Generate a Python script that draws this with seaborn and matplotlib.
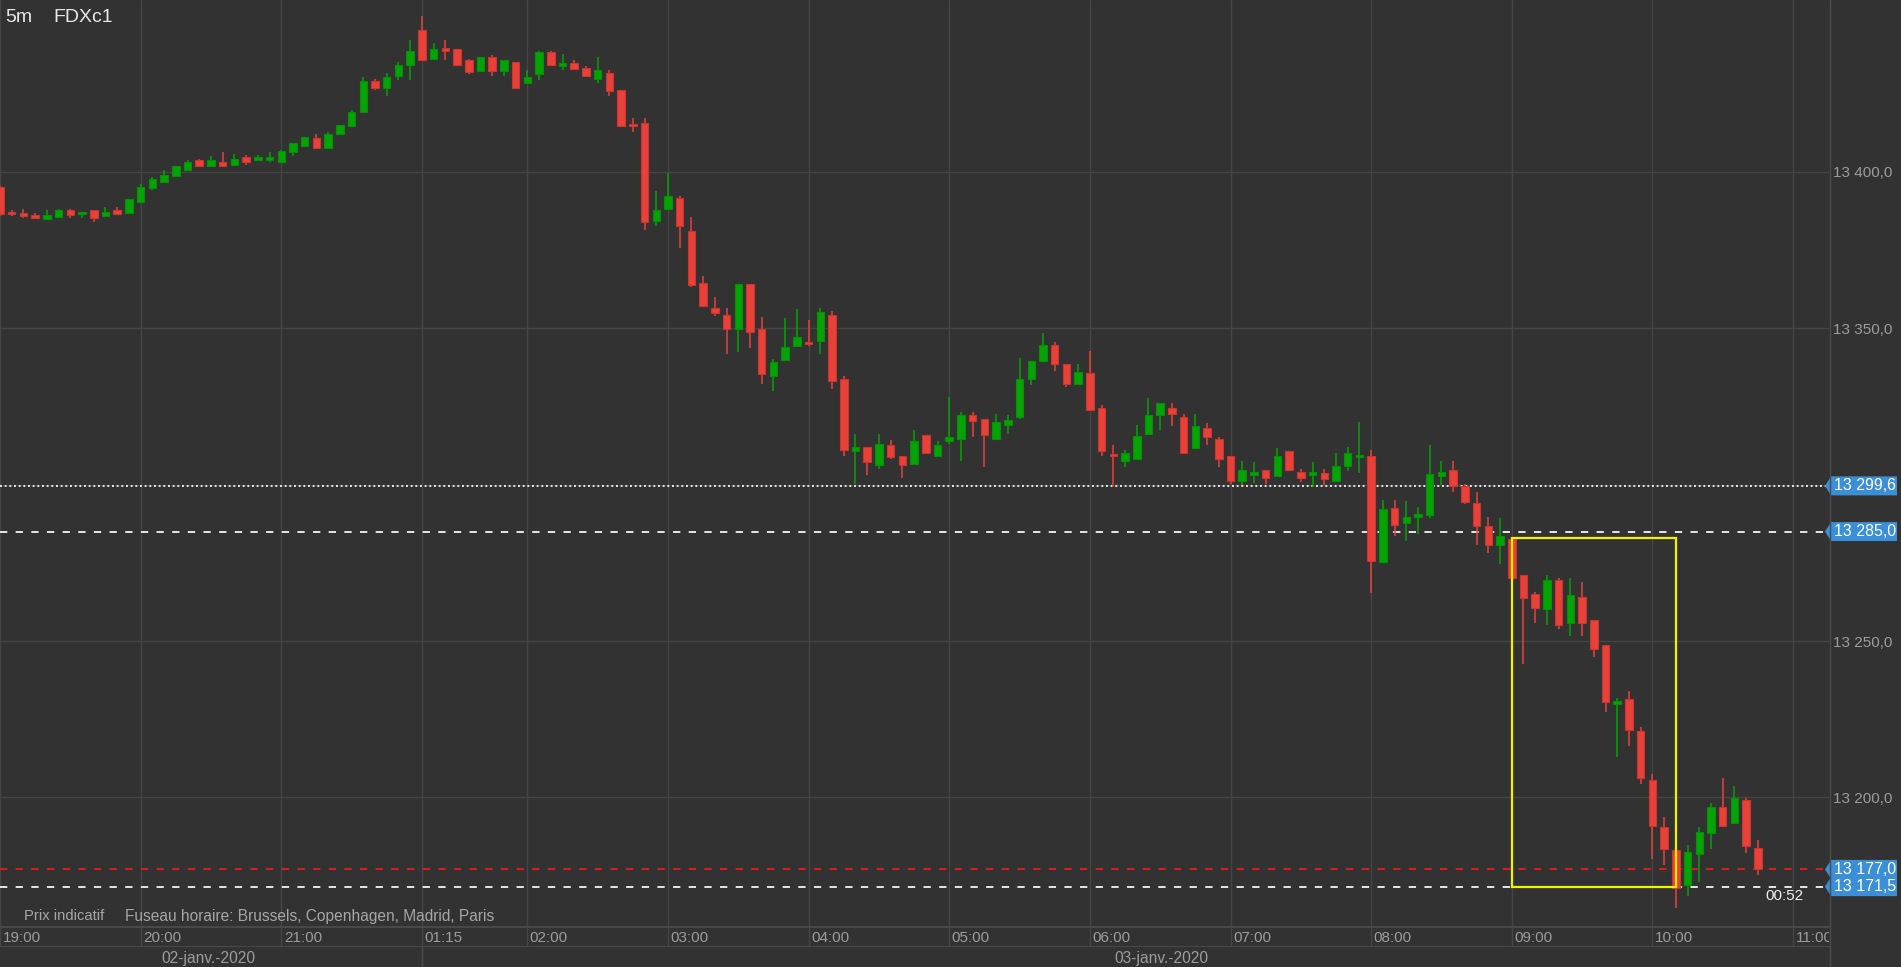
import numpy as np
import pandas as pd
import matplotlib
matplotlib.use("Agg")
import matplotlib.pyplot as plt
import matplotlib.transforms as mtransforms
from matplotlib.patches import Polygon, Rectangle
from matplotlib.lines import Line2D
import seaborn as sns

# --- data: FDXc1, bougies 5 minutes ---
sessions = [("2020-01-02 19:00", "2020-01-02 21:55"),
            ("2020-01-03 01:15", "2020-01-03 10:45")]

opens = [
    13395.2, 13387.2, 13386.8, 13386.2, 13384.8, 13385.6, 13387.7, 13386.4, 13387.7, 13385.7, 13387.7, 13386.8,  # 19h
    13390.2, 13394.7, 13396.7, 13398.7, 13400.6, 13403.6, 13401.7, 13403.1, 13402.2, 13404.8, 13403.7, 13403.7,  # 20h
    13403.2, 13406.2, 13408.2, 13410.7, 13407.7, 13412.2, 13414.7, 13419.2, 13429.1, 13426.8, 13430.7, 13434.2,  # 21h
    13445.2, 13436.2, 13439.7, 13439.2, 13435.7, 13432.2, 13436.7, 13432.2, 13435.2,  # 01h15
    13428.3, 13431.2, 13438.2, 13433.7, 13434.8, 13433.3, 13429.7, 13431.7, 13426.2, 13415.2, 13415.7, 13384.3,  # 02h
    13388.1, 13391.7, 13381.1, 13364.5, 13356.6, 13354.1, 13349.7, 13364.1, 13349.6, 13334.7, 13339.7, 13344.2,  # 03h
    13345.2, 13345.8, 13354.2, 13333.6, 13310.7, 13312.1, 13306.2, 13312.6, 13309.1, 13306.7, 13316.0, 13309.3,  # 04h
    13313.8, 13314.7, 13322.1, 13321.1, 13314.7, 13319.2, 13321.7, 13333.6, 13339.6, 13344.6, 13338.6, 13332.1,  # 05h
    13335.7, 13324.6, 13309.6, 13307.6, 13308.1, 13316.1, 13322.1, 13324.6, 13321.6, 13311.7, 13318.2, 13314.6,  # 06h
    13309.2, 13301.2, 13303.2, 13304.6, 13302.7, 13310.7, 13304.1, 13303.2, 13303.7, 13301.3, 13305.8, 13308.7,  # 07h
    13309.1, 13275.2, 13292.6, 13287.8, 13289.8, 13290.2, 13302.7, 13304.6, 13299.6, 13294.2, 13286.7, 13280.7,  # 08h
    13282.5, 13271.1, 13265.1, 13260.2, 13269.6, 13255.7, 13264.0, 13256.6, 13248.7, 13230.0, 13231.4, 13221.4,  # 09h
    13205.5, 13190.7, 13183.3, 13172.0, 13182.0, 13188.8, 13197.1, 13191.8, 13199.1, 13183.7,  # 10h
]
highs = [
    13395.5, 13387.7, 13388.0, 13386.8, 13387.7, 13388.0, 13388.2, 13387.2, 13387.7, 13388.7, 13388.7, 13391.3,
    13396.2, 13398.2, 13400.6, 13401.7, 13403.7, 13404.2, 13405.1, 13406.2, 13405.6, 13405.2, 13405.2, 13406.2,
    13407.1, 13409.2, 13411.2, 13412.2, 13412.7, 13415.1, 13419.7, 13430.2, 13429.6, 13431.6, 13435.2, 13442.1,
    13449.7, 13441.3, 13442.2, 13439.2, 13436.1, 13436.7, 13437.2, 13435.7, 13435.2,
    13432.6, 13438.7, 13438.7, 13437.7, 13435.7, 13433.8, 13436.7, 13432.6, 13426.2, 13417.2, 13417.2, 13393.7,
    13399.7, 13392.1, 13385.6, 13366.6, 13360.1, 13356.6, 13364.1, 13364.1, 13353.6, 13340.1, 13353.1, 13356.1,
    13352.6, 13356.6, 13355.6, 13334.6, 13316.1, 13312.1, 13316.1, 13314.2, 13309.1, 13317.6, 13316.0, 13314.1,
    13328.1, 13323.2, 13323.2, 13321.1, 13322.6, 13322.1, 13340.6, 13339.6, 13348.6, 13345.6, 13338.6, 13338.6,
    13342.6, 13325.6, 13312.6, 13311.1, 13319.1, 13327.7, 13326.1, 13326.1, 13322.6, 13322.6, 13319.7, 13315.2,
    13309.2, 13307.6, 13307.2, 13304.6, 13311.7, 13310.7, 13305.1, 13307.2, 13305.1, 13310.2, 13312.1, 13320.1,
    13311.1, 13295.1, 13295.1, 13294.7, 13292.7, 13312.7, 13307.6, 13307.6, 13300.1, 13297.7, 13289.7, 13289.2,
    13283.0, 13271.1, 13265.7, 13271.1, 13270.0, 13270.0, 13269.0, 13256.6, 13248.7, 13231.8, 13233.9, 13222.5,
    13207.5, 13193.7, 13183.3, 13184.7, 13190.7, 13198.2, 13206.2, 13203.7, 13199.7, 13186.3,
]
lows = [
    13386.0, 13385.8, 13385.3, 13385.3, 13384.8, 13385.3, 13385.3, 13385.3, 13383.8, 13385.7, 13386.4, 13386.8,
    13390.2, 13394.2, 13396.7, 13398.7, 13400.6, 13401.7, 13401.7, 13401.7, 13402.2, 13402.1, 13403.7, 13403.2,
    13403.2, 13405.1, 13408.2, 13407.7, 13407.7, 13411.6, 13414.2, 13419.2, 13426.2, 13424.1, 13429.2, 13429.2,
    13435.6, 13436.2, 13435.6, 13434.2, 13431.2, 13431.8, 13430.7, 13430.7, 13426.8,
    13428.3, 13429.2, 13434.2, 13432.6, 13432.7, 13430.7, 13428.3, 13424.2, 13414.7, 13412.7, 13381.3, 13382.8,
    13388.1, 13375.7, 13363.1, 13356.7, 13353.8, 13341.6, 13342.3, 13343.7, 13332.1, 13329.8, 13339.7, 13344.2,
    13344.2, 13341.6, 13330.7, 13309.2, 13300.2, 13303.2, 13305.1, 13308.1, 13302.2, 13306.7, 13310.2, 13309.3,
    13313.1, 13307.7, 13315.2, 13305.7, 13314.7, 13316.1, 13321.1, 13331.7, 13339.6, 13336.2, 13331.1, 13332.1,
    13323.7, 13309.2, 13299.2, 13305.7, 13308.1, 13316.1, 13317.6, 13318.6, 13310.2, 13311.7, 13312.6, 13305.7,
    13300.2, 13299.9, 13300.6, 13300.2, 13302.7, 13304.2, 13300.7, 13299.2, 13299.9, 13301.3, 13304.2, 13303.7,
    13265.3, 13275.2, 13283.7, 13282.1, 13284.1, 13289.3, 13299.9, 13297.7, 13293.7, 13280.7, 13278.3, 13274.7,
    13249.1, 13242.8, 13255.7, 13255.2, 13253.7, 13251.7, 13251.7, 13244.8, 13227.4, 13213.0, 13216.5, 13204.2,
    13180.4, 13178.4, 13164.6, 13168.5, 13173.0, 13183.4, 13190.9, 13191.8, 13182.3, 13175.1,
]
closes = [
    13386.5, 13386.4, 13385.7, 13385.3, 13386.1, 13387.7, 13386.2, 13387.2, 13385.3, 13387.2, 13386.4, 13391.3,
    13395.2, 13397.7, 13399.1, 13401.7, 13403.2, 13401.7, 13403.7, 13401.7, 13404.2, 13403.1, 13404.8, 13404.7,
    13406.7, 13409.2, 13411.2, 13407.7, 13412.2, 13415.1, 13419.2, 13429.1, 13426.7, 13430.2, 13434.1, 13438.7,
    13435.6, 13439.2, 13438.7, 13434.2, 13431.8, 13436.7, 13432.2, 13435.7, 13426.8,
    13430.2, 13438.2, 13434.2, 13434.8, 13432.7, 13430.7, 13432.6, 13425.7, 13414.7, 13414.7, 13383.8, 13387.7,
    13392.1, 13382.8, 13363.7, 13357.2, 13354.7, 13349.7, 13364.1, 13348.7, 13335.2, 13339.2, 13344.0, 13347.1,
    13344.9, 13355.1, 13333.2, 13311.2, 13312.1, 13307.2, 13313.0, 13308.7, 13306.2, 13314.0, 13310.2, 13312.6,
    13315.1, 13322.1, 13320.2, 13315.7, 13320.1, 13320.6, 13333.6, 13339.6, 13344.6, 13338.6, 13332.1, 13336.1,
    13323.7, 13310.6, 13309.2, 13310.2, 13315.6, 13322.1, 13326.1, 13322.6, 13310.2, 13318.6, 13315.2, 13308.1,
    13301.2, 13304.6, 13304.1, 13302.2, 13309.1, 13304.7, 13302.2, 13304.1, 13301.7, 13306.1, 13310.2, 13309.6,
    13275.7, 13292.1, 13287.2, 13289.6, 13290.5, 13303.5, 13304.1, 13299.7, 13294.3, 13286.8, 13280.7, 13283.7,
    13270.1, 13263.7, 13260.7, 13269.6, 13255.2, 13264.6, 13255.7, 13247.5, 13230.4, 13230.8, 13221.5, 13206.2,
    13190.9, 13183.4, 13171.0, 13182.7, 13189.1, 13197.1, 13190.9, 13199.7, 13184.5, 13177.0,
]

tick_times = ["2020-01-02 19:00", "2020-01-02 20:00", "2020-01-02 21:00", "2020-01-03 01:15",
              "2020-01-03 02:00", "2020-01-03 03:00", "2020-01-03 04:00", "2020-01-03 05:00",
              "2020-01-03 06:00", "2020-01-03 07:00", "2020-01-03 08:00", "2020-01-03 09:00",
              "2020-01-03 10:00", "2020-01-03 11:00"]
price_ticks = [13200, 13250, 13300, 13350, 13400]
date_labels = ["02-janv.-2020", "03-janv.-2020"]

# niveaux horizontaux
levels = [13299.6, 13285.0, 13177.0, 13171.5]
countdown = "00:52"
box_from, box_to, box_low = "2020-01-03 09:00", "2020-01-03 10:10", 13171.5

stamps = pd.DatetimeIndex(np.concatenate(
    [pd.date_range(a, b, freq="5min").values for a, b in sessions]))
df = pd.DataFrame({"time": stamps, "open": opens, "high": highs,
                   "low": lows, "close": closes})
df["x"] = np.arange(len(df))


def slot(ts):
    ts = pd.Timestamp(ts)
    hit = np.flatnonzero(stamps == ts)
    if len(hit):
        return float(hit[0])
    return len(stamps) - 1 + (ts - stamps[-1]) / pd.Timedelta("5min")


def fmt_price(v):
    return f"{v:,.1f}".replace(",", " ").replace(".", ",")


# --- style ---
BG = "#323232"
GRID = "#454545"
SEP = "#4c4c4c"
UP = "#05a305"
DOWN = "#e8413a"
TXT = "#9c9c9c"
TAG = "#3a8fd6"

sns.set_theme(style="dark", rc={"figure.facecolor": BG, "axes.facecolor": BG,
                                "savefig.facecolor": BG})
plt.rcParams["font.family"] = ["Liberation Sans", "DejaVu Sans"]

W, H = 1901, 967
fig = plt.figure(figsize=(W / 100, H / 100), dpi=100)
ax = fig.add_axes([0, 40 / H, 1829 / W, 927 / H])
ax_t = fig.add_axes([0, 20 / H, 1829 / W, 20 / H])
ax_d = fig.add_axes([0, 0, 1829 / W, 20 / H])

xlim = (0.0, 156.07)
for a in (ax, ax_t, ax_d):
    a.set_xlim(*xlim)
    a.set_facecolor(BG)
    for s in a.spines.values():
        s.set_visible(False)

ax.set_ylim(13158.6, 13454.9)

# grille
tick_x = [slot(t) for t in tick_times]
ax.set_xticks(tick_x)
ax.set_xticklabels([])
ax.set_yticks(price_ticks)
ax.set_yticklabels([fmt_price(v) for v in price_ticks])
ax.yaxis.tick_right()
ax.tick_params(axis="both", length=0)
ax.tick_params(axis="y", pad=3, labelsize=11, labelcolor=TXT)
ax.grid(True, color=GRID, lw=1.0)

# bougies
up = df["close"] >= df["open"]
colors = np.where(up, UP, DOWN)
edges = np.where(up, "#069006", "#c9352f")
body_lo = df[["open", "close"]].min(axis=1)
body_h = (df["close"] - df["open"]).abs().clip(lower=0.6)
ax.vlines(df["x"], df["low"], df["high"], colors=colors, lw=1.1, zorder=3)
ax.bar(df["x"], body_h, bottom=body_lo, width=0.64, color=colors,
       edgecolor=edges, linewidth=0.8, zorder=4)

# niveaux
dash = (0, (3.75, 4.3))
ax.axhline(levels[0], color="#e6e6e6", lw=1.4, ls=(0, (1.0, 1.4)), zorder=2)
ax.axhline(levels[1], color="#e6e6e6", lw=1.4, ls=dash, zorder=2)
ax.axhline(levels[2], color="#e01c1c", lw=1.4, ls=dash, zorder=2)
ax.axhline(levels[3], color="#e6e6e6", lw=1.4, ls=dash, zorder=2)

# cadre jaune
bx0, bx1 = slot(box_from), slot(box_to)
box_high = df.loc[df["time"] == pd.Timestamp(box_from), "high"].iloc[0]
ax.add_patch(Rectangle((bx0, box_low), bx1 - bx0, box_high - box_low,
                       fill=False, edgecolor="#f2f200", lw=1.6, zorder=5))

# étiquettes de prix bleues
tag_tr = mtransforms.blended_transform_factory(fig.transFigure, ax.transData)
half = 9.5 / 3.128
for v in levels:
    pts = [(1825 / W, v), (1831 / W, v + half), (1897 / W, v + half),
           (1897 / W, v - half), (1831 / W, v - half)]
    ax.add_patch(Polygon(pts, closed=True, facecolor=TAG, edgecolor="none",
                         transform=tag_tr, clip_on=False, zorder=6))
    ax.text(1834 / W, v, fmt_price(v), transform=tag_tr, color="white",
            fontsize=11.5, va="center", ha="left", clip_on=False, zorder=7)

ax.text(df["x"].iloc[-1] + 0.6, levels[3] - 3.1, countdown, color="#f0f0f0",
        fontsize=11, ha="left", va="center", zorder=7)

# ligne des heures
ax_t.set_ylim(0, 1)
ax_t.set_yticks([])
ax_t.set_xticks(tick_x)
ax_t.set_xticklabels([])
ax_t.tick_params(length=0)
ax_t.grid(True, axis="x", color=GRID, lw=1.0)
ax_t.spines["top"].set_visible(True)
ax_t.spines["top"].set_color(SEP)
ax_t.spines["bottom"].set_visible(True)
ax_t.spines["bottom"].set_color(SEP)
shift = mtransforms.ScaledTranslation(2.5 / 100, 0, fig.dpi_scale_trans)
for xv, t in zip(tick_x, tick_times):
    ax_t.text(xv, 0.45, pd.Timestamp(t).strftime("%H:%M"), color=TXT, fontsize=11,
              ha="left", va="center", transform=ax_t.transData + shift, clip_on=True)

# ligne des dates
ax_d.set_ylim(0, 1)
ax_d.set_xticks([])
ax_d.set_yticks([])
ax_d.axvline(slot(sessions[1][0]), color=SEP, lw=1.0)
for xv, lab in zip([17.8, 99.1], date_labels):
    ax_d.text(xv, 0.45, lab, color=TXT, fontsize=11.2, ha="center", va="center")

# séparateur de l'axe des prix
fig.add_artist(Line2D([1829.5 / W] * 2, [0, 1], transform=fig.transFigure,
                      color=SEP, lw=1.0))

# textes
fig.text(5 / W, 1 - 17 / H, "5m", color="#e8e8e8", fontsize=14, va="center")
fig.text(53 / W, 1 - 17 / H, "FDXc1", color="#e8e8e8", fontsize=14, va="center")
fig.text(24 / W, 1 - 916 / H, "Prix indicatif", color="#a6a6a6", fontsize=10.6, va="center")
fig.text(125 / W, 1 - 916 / H, "Fuseau horaire: Brussels, Copenhagen, Madrid, Paris",
         color="#a6a6a6", fontsize=11.2, va="center")

fig.savefig("out.png", dpi=100, facecolor=BG)
